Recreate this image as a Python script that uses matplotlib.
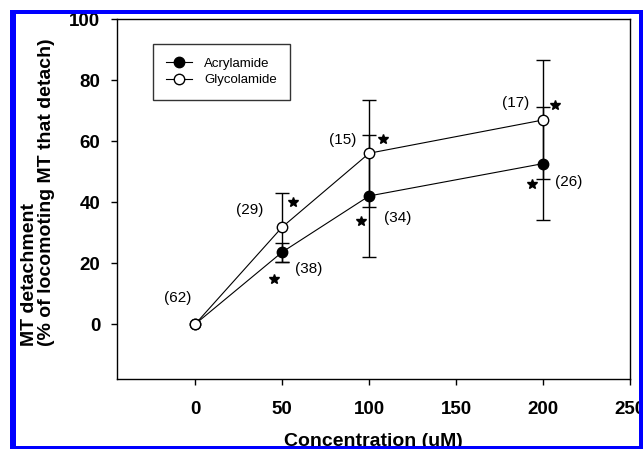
import numpy as np
import matplotlib
matplotlib.use("Agg")
import matplotlib.pyplot as plt
from matplotlib.patches import Rectangle

# data
conc = [0, 50, 100, 200]
acryl = [0, 23.6, 42, 52.6]
acryl_err = [0, 3.1, 20, 18.4]
glyc = [0, 31.8, 56, 66.9]
glyc_err = [0, 11.3, 17.5, 19.5]

# number of MTs per point, and where the labels sit
n_labels = ["(62)", "(38)", "(29)", "(15)", "(34)", "(17)", "(26)"]
n_x = [-10, 65, 31.5, 84.5, 116.5, 184, 215]
n_y = [8.5, 18, 37.5, 60.3, 34.7, 72.5, 46.6]

# significance stars
star_x = [45.5, 56.3, 95.4, 108, 193.7, 207]
star_y = [14.8, 40, 33.8, 60.6, 46, 71.8]

xticks = [0, 50, 100, 150, 200, 250]
yticks = [0, 20, 40, 60, 80, 100]

plt.rcParams['font.family'] = ['Liberation Sans', 'DejaVu Sans']

W, H = 643, 449
fig = plt.figure(figsize=(W/100., H/100.), dpi=100)
ax = fig.add_axes([117./W, 1-379./H, (630-117.)/W, (379-19.)/H])

lw = 0.8
ax.plot(conc, acryl, '-', color='k', lw=lw, marker='o', ms=7.5,
        mfc='k', mec='k', mew=1, label='Acrylamide', zorder=3)
ax.errorbar(conc[1:], acryl[1:], yerr=acryl_err[1:], fmt='none', ecolor='k',
            elinewidth=1, capsize=5, capthick=1, zorder=2)
ax.plot(conc, glyc, '-', color='k', lw=lw, marker='o', ms=7.5,
        mfc='white', mec='k', mew=1, label='Glycolamide', zorder=4)
ax.errorbar(conc[1:], glyc[1:], yerr=glyc_err[1:], fmt='none', ecolor='k',
            elinewidth=1, capsize=5, capthick=1, zorder=2)

ax.plot(star_x, star_y, linestyle='none', marker='*', ms=7.5, color='k')
for lab, x, y in zip(n_labels, n_x, n_y):
    ax.text(x, y, lab, ha='center', va='center', fontsize=11)

ax.set_xlim(-45, 250)
ax.set_ylim(-18, 100)
ax.set_xticks(xticks)
ax.set_yticks(yticks)
ax.tick_params(direction='out', length=4, width=1)
ax.tick_params(axis='x', pad=12)
ax.tick_params(axis='y', pad=8)
for t in ax.get_xticklabels() + ax.get_yticklabels():
    t.set_fontsize(13.5)
    t.set_fontweight('bold')
for s in ax.spines.values():
    s.set_linewidth(1)

ax.set_xlabel('Concentration (uM)', fontsize=14, fontweight='bold')
ax.xaxis.set_label_coords(0.5, -0.15)
ax.set_ylabel('MT detachment\n(% of locomoting MT that detach)', fontsize=14,
              fontweight='bold', multialignment='left', linespacing=1.05)
ax.yaxis.set_label_coords(-0.12, 0.52)

leg = ax.legend(loc='upper left', bbox_to_anchor=(0.07, 0.93), fontsize=9.5,
                frameon=True, fancybox=False, edgecolor='k', handlelength=2.0,
                borderpad=1.0, labelspacing=0.35, handletextpad=0.9,
                borderaxespad=0)
leg.get_frame().set_linewidth(1)

# blue frame around the picture
blue = '#0000ff'
for (x0, y0, x1, y1) in [(10, 10, 643, 14), (10, 10, 16, 449),
                         (639, 10, 643, 449), (10, 446, 643, 449)]:
    fig.add_artist(Rectangle((x0/float(W), 1-y1/float(H)), (x1-x0)/float(W),
                             (y1-y0)/float(H), transform=fig.transFigure,
                             color=blue, lw=0, zorder=10))

fig.savefig('out.png', dpi=100)
